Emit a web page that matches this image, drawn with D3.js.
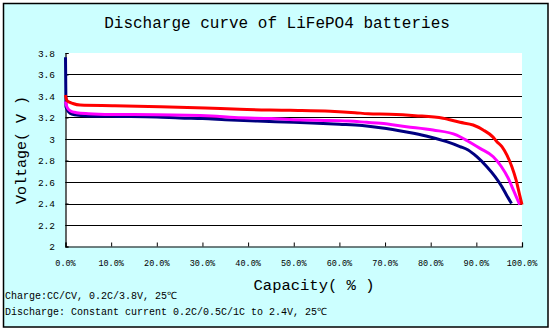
<!DOCTYPE html>
<html>
<head>
<meta charset="utf-8">
<script src="https://cdn.jsdelivr.net/npm/d3@7"></script>
<style>
  html, body { margin: 0; padding: 0; background: #ffffff; }
  svg { display: block; }
</style>
</head>
<body>
<svg id="chart" width="553" height="332"></svg>
<script>
// ---------- data ----------
const titleText = "Discharge curve of LiFePO4 batteries";
const yAxisTitle = "Voltage( V )";
const xAxisTitle = "Capacity( % )";
const noteLines = [
  "Charge:CC/CV, 0.2C/3.8V, 25\u2103",
  "Discharge: Constant current 0.2C/0.5C/1C to 2.4V, 25\u2103"
];

const yTicks = [2, 2.2, 2.4, 2.6, 2.8, 3, 3.2, 3.4, 3.6, 3.8];
const yTickLabels = ["2", "2.2", "2.4", "2.6", "2.8", "3", "3.2", "3.4", "3.6", "3.8"];
const xTicks = [0, 10, 20, 30, 40, 50, 60, 70, 80, 90, 100];
const xTickLabels = ["0.0%", "10.0%", "20.0%", "30.0%", "40.0%", "50.0%", "60.0%", "70.0%", "80.0%", "90.0%", "100.0%"];

// 0.2C (red)
const capRed = [0, 0.3, 1, 1.6, 3.2, 10.8, 20.7, 30.6, 38.2, 49.2, 58, 63.4, 66.3, 71, 76.6, 82.7, 86.4, 89.3, 91.5, 93.6, 94.5, 95.6, 96.7, 97.8, 98.7, 99.4, 100];
const voltRed = [3.41, 3.36, 3.34, 3.33, 3.316, 3.31, 3.30, 3.288, 3.276, 3.267, 3.258, 3.245, 3.235, 3.23, 3.217, 3.193, 3.155, 3.13, 3.084, 3.02, 2.975, 2.93, 2.85, 2.74, 2.62, 2.495, 2.39];

// 0.5C (magenta)
const capMagenta = [0, 0.3, 1, 2.4, 5, 10, 20, 32, 37, 45, 50, 55, 62, 66, 69, 74.7, 80.5, 85.7, 88, 90.8, 93.7, 95.5, 97, 98.1, 98.9, 99.5];
const voltMagenta = [3.35, 3.30, 3.263, 3.245, 3.235, 3.228, 3.226, 3.214, 3.20, 3.19, 3.18, 3.174, 3.167, 3.155, 3.146, 3.115, 3.084, 3.037, 2.984, 2.913, 2.835, 2.742, 2.634, 2.526, 2.448, 2.39];

// 1C (navy)
const capNavy = [0, 0.1, 1, 2, 4, 10, 20, 25, 30, 35, 42, 48, 54, 60, 65, 69, 74.7, 79, 83.5, 86.4, 88.2, 90.1, 92.3, 94.1, 95.6, 96.6, 97.7];
const voltNavy = [3.76, 3.30, 3.24, 3.225, 3.217, 3.211, 3.205, 3.195, 3.19, 3.18, 3.167, 3.158, 3.149, 3.137, 3.125, 3.105, 3.065, 3.028, 2.975, 2.93, 2.898, 2.835, 2.742, 2.65, 2.556, 2.48, 2.40];

const seriesNames = ["1C", "0.5C", "0.2C"];
const seriesColors = ["#000080", "#ff00ff", "#ff0000"];

// ---------- layout ----------
const W = 553, H = 332;
const plot = { left: 65.5, right: 522, top: 53, bottom: 246.5 };
const monoFont = "'Liberation Mono', 'DejaVu Sans Mono', monospace";

const svg = d3.select("#chart");

// background & border
svg.append("rect").attr("x", 0).attr("y", 0).attr("width", W).attr("height", H).attr("fill", "#ffffff");
svg.append("rect").attr("x", 3.5).attr("y", 3.5).attr("width", 544.5).attr("height", 323.5)
  .attr("fill", "#ccffff").attr("stroke", "#000").attr("stroke-width", 1.5);

// plot area
svg.append("rect").attr("x", plot.left).attr("y", plot.top)
  .attr("width", plot.right - plot.left).attr("height", plot.bottom - plot.top)
  .attr("fill", "#ffffff");

const x = d3.scaleLinear().domain([0, 100]).range([plot.left, plot.right]);
const y = d3.scaleLinear().domain([2, 3.8]).range([plot.bottom, plot.top]);

// gridlines
svg.append("g").selectAll("line")
  .data(yTicks.filter(v => v > 2 && v < 3.8))
  .join("line")
  .attr("x1", plot.left).attr("x2", plot.right)
  .attr("y1", d => Math.round(y(d)) + 0.5).attr("y2", d => Math.round(y(d)) + 0.5)
  .attr("stroke", "#000").attr("stroke-width", 1.2);

// y axis (ticks inward)
const yAxis = d3.axisRight(y).tickValues(yTicks).tickSize(3).tickFormat("");
const gy = svg.append("g").attr("transform", `translate(${plot.left},0)`).call(yAxis);
gy.select(".domain").attr("stroke", "#000").attr("stroke-width", 1.2);
gy.selectAll(".tick line").attr("stroke", "#000");

// y tick labels
svg.append("g").selectAll("text")
  .data(yTicks)
  .join("text")
  .attr("x", 55).attr("y", d => y(d) + 1)
  .attr("text-anchor", "end").attr("dominant-baseline", "middle")
  .attr("font-family", monoFont).attr("font-size", 9.5)
  .attr("fill", "#000")
  .text((d, i) => yTickLabels[i]);

// x axis (ticks inward)
const xAxis = d3.axisTop(x).tickValues(xTicks).tickSize(4).tickFormat("");
const gx = svg.append("g").attr("transform", `translate(0,${plot.bottom})`).call(xAxis);
gx.select(".domain").attr("stroke", "#000").attr("stroke-width", 1.2);
gx.selectAll(".tick line").attr("stroke", "#000");

// x tick labels
svg.append("g").selectAll("text")
  .data(xTicks)
  .join("text")
  .attr("x", d => x(d)).attr("y", 264)
  .attr("text-anchor", "middle").attr("dominant-baseline", "middle")
  .attr("font-family", monoFont).attr("font-size", 8.5)
  .attr("fill", "#000")
  .text((d, i) => xTickLabels[i]);

// series
const seriesData = [
  capNavy.map((c, i) => [c, voltNavy[i]]),
  capMagenta.map((c, i) => [c, voltMagenta[i]]),
  capRed.map((c, i) => [c, voltRed[i]])
];
const line = d3.line().x(d => x(d[0])).y(d => y(d[1])).curve(d3.curveMonotoneX);
svg.append("g").selectAll("path")
  .data(seriesData)
  .join("path")
  .attr("d", line)
  .attr("fill", "none")
  .attr("stroke", (d, i) => seriesColors[i])
  .attr("stroke-width", 3)
  .attr("stroke-linejoin", "round");

// title
svg.append("text")
  .attr("x", 277).attr("y", 28)
  .attr("text-anchor", "middle")
  .attr("font-family", monoFont).attr("font-size", 16)
  .attr("fill", "#000")
  .text(titleText);

// y axis title
svg.append("text")
  .attr("transform", "translate(26,150) rotate(-90)")
  .attr("text-anchor", "middle")
  .attr("font-family", monoFont).attr("font-size", 15)
  .attr("fill", "#000")
  .text(yAxisTitle);

// x axis title
svg.append("text")
  .attr("x", 314).attr("y", 290)
  .attr("text-anchor", "middle")
  .attr("font-family", monoFont).attr("font-size", 15.5)
  .attr("fill", "#000")
  .text(xAxisTitle);

// notes
svg.append("g").selectAll("text")
  .data(noteLines)
  .join("text")
  .attr("x", 5).attr("y", (d, i) => 299 + i * 16)
  .attr("font-family", monoFont).attr("font-size", 10)
  .attr("fill", "#000")
  .text(d => d);
</script>
</body>
</html>
